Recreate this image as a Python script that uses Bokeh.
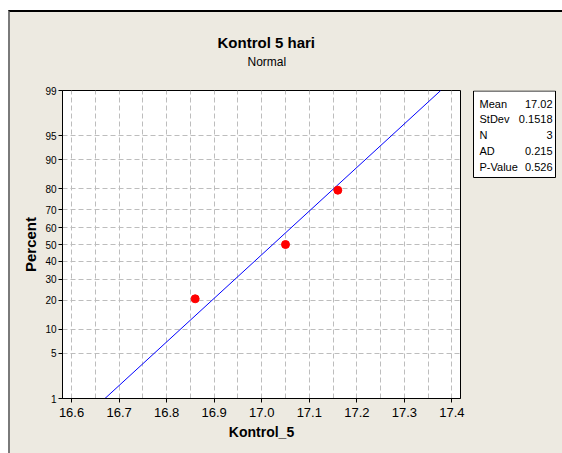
from statistics import NormalDist
import numpy as np
from bokeh.plotting import figure
from bokeh.layouts import row
from bokeh.models import (FixedTicker, CustomJSTickFormatter, NumeralTickFormatter, Title)
from bokeh.core.properties import value
from bokeh.embed import file_html
from bokeh.resources import INLINE

# ---- data ----
kontrol_5 = [16.86, 17.05, 17.16]
point_pct = [20.6, 50.0, 79.4]
pct_ticks = [1, 5, 10, 20, 30, 40, 50, 60, 70, 80, 90, 95, 99]
x_ticks = [16.6, 16.7, 16.8, 16.9, 17.0, 17.1, 17.2, 17.3, 17.4]
stat_names = ["Mean", "StDev", "N", "AD", "P-Value"]
stat_values = ["17.02", "0.1518", "3", "0.215", "0.526"]
title_text = "Kontrol 5 hari"
subtitle_text = "Normal"

nd = NormalDist()
z_ticks = [nd.inv_cdf(p / 100.0) for p in pct_ticks]
z_pts = [nd.inv_cdf(p / 100.0) for p in point_pct]
mean = float(np.mean(kontrol_5))
sd = float(np.std(kontrol_5, ddof=1))

BG = "#EDEAE1"
FONT = "Liberation Sans"

p = figure(frame_width=398, frame_height=308,
           min_border_left=52, min_border_right=10, min_border_top=78, min_border_bottom=55,
           x_range=(16.581, 17.418), y_range=(z_ticks[0], z_ticks[-1]),
           output_backend="svg", toolbar_location=None,
           background_fill_color="white", border_fill_color=BG)
p.outline_line_color = "black"
p.outline_line_width = 1

# fitted line and points
zl = [z_ticks[0], z_ticks[-1]]
xl = [mean + sd * z for z in zl]
p.line(xl, zl, line_color="#0000FF", line_width=1)
p.scatter(kontrol_5, z_pts, size=8, color="#FF0000")

# axes
xa = p.xaxis[0]
x_minor = [round(a + 0.05, 2) for a in x_ticks[:-1]]
xa.ticker = FixedTicker(ticks=x_ticks, minor_ticks=x_minor)
xa.formatter = NumeralTickFormatter(format="0.0")
xa.major_tick_in = 0
xa.major_tick_out = 4
xa.minor_tick_in = 0
xa.minor_tick_out = 0
xa.major_label_standoff = 5
xa.major_label_text_font = FONT
xa.major_label_text_font_size = "13px"
xa.major_label_text_color = "black"
xa.axis_label = "Kontrol_5"
xa.axis_label_text_font = FONT
xa.axis_label_text_font_style = "bold"
xa.axis_label_text_font_size = "14px"
xa.axis_label_text_color = "black"
xa.axis_label_standoff = 4
xa.axis_line_color = "black"

ya = p.yaxis[0]
ya.ticker = FixedTicker(ticks=z_ticks)
ya.formatter = CustomJSTickFormatter(
    args=dict(zs=z_ticks, labels=[str(v) for v in pct_ticks]),
    code="""
    for (let i = 0; i < zs.length; i++) {
        if (Math.abs(zs[i] - tick) < 1e-6) return labels[i];
    }
    return '';
    """)
ya.major_tick_in = 0
ya.major_tick_out = 4
ya.minor_tick_in = 0
ya.minor_tick_out = 0
ya.major_label_standoff = 2
ya.major_label_text_font = FONT
ya.major_label_text_font_size = "10px"
ya.major_label_text_color = "black"
ya.axis_label = "Percent"
ya.axis_label_text_font = FONT
ya.axis_label_text_font_style = "bold"
ya.axis_label_text_font_size = "15px"
ya.axis_label_text_color = "black"
ya.axis_label_standoff = 3
ya.axis_line_color = "black"

# grids
p.xgrid.ticker = FixedTicker(ticks=x_ticks, minor_ticks=x_minor)
p.xgrid.grid_line_color = "#BDBDBD"
p.xgrid.grid_line_dash = "5 3"
p.xgrid.minor_grid_line_color = "#BDBDBD"
p.xgrid.minor_grid_line_dash = "5 3"
p.ygrid.ticker = FixedTicker(ticks=z_ticks[1:-1])
p.ygrid.grid_line_color = "#BDBDBD"
p.ygrid.grid_line_dash = "5 3"

# titles (spacer first, closest to the frame)
p.add_layout(Title(text=" ", standoff=18, text_font=FONT, text_font_size="1px",
                   text_color="black"), "above")
p.add_layout(Title(text=subtitle_text, align="left", offset=185, standoff=2,
                   text_font=FONT, text_font_size="12px", text_font_style="normal",
                   text_color="black"), "above")
p.add_layout(Title(text=title_text, align="left", offset=155, standoff=2,
                   text_font=FONT, text_font_size="15px", text_font_style="bold",
                   text_color="black"), "above")

# stats box panel (frame aligned with main frame: page y 90..398, y downward)
q = figure(width=92, height=441, x_range=(0, 92), y_range=(398, 90),
           x_axis_type=None, y_axis_type=None, min_border=0,
           output_backend="svg", toolbar_location=None,
           background_fill_color=BG, border_fill_color=BG, outline_line_color=None)
q.grid.visible = False
q.quad(left=[3], right=[85], top=[90.5], bottom=[177],
       fill_color="white", line_color="black", line_width=1)
row_y = [103 + i * 15.8 for i in range(len(stat_names))]
q.text(x=[9] * len(stat_names), y=row_y, text=stat_names,
       text_font=value(FONT), text_font_size="11px", text_align="left",
       text_baseline="middle", text_color="black")
q.text(x=[82] * len(stat_values), y=row_y, text=stat_values,
       text_font=value(FONT), text_font_size="11px", text_align="right",
       text_baseline="middle", text_color="black")

layout = row(p, q)
layout.styles = {"margin-left": "8px", "margin-top": "10px",
                 "border-top": "2px solid #000000", "border-left": "2px solid #7A7A7A",
                 "background-color": BG}

open("out.html", "w").write(file_html(layout, INLINE))
